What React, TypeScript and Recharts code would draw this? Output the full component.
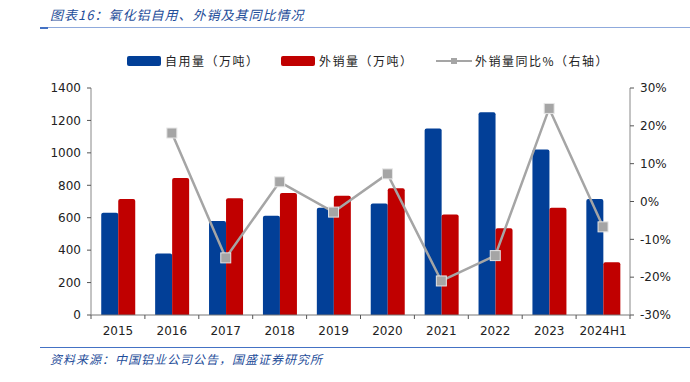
import { ComposedChart, Bar, Line, XAxis, YAxis } from 'recharts'

const years = ['2015', '2016', '2017', '2018', '2019', '2020', '2021', '2022', '2023', '2024H1']
const selfUse = [630, 380, 580, 612, 662, 688, 1150, 1250, 1020, 715]
const sales = [715, 845, 720, 752, 735, 782, 620, 535, 662, 325]
const salesYoY = [null, 0.181, -0.149, 0.052, -0.028, 0.073, -0.21, -0.143, 0.246, -0.067]

const leftTicks = [0, 200, 400, 600, 800, 1000, 1200, 1400]
const rightTicks = [-0.3, -0.2, -0.1, 0, 0.1, 0.2, 0.3]

const data = years.map((y, i) => ({
  year: y,
  selfUse: selfUse[i],
  sales: sales[i],
  yoy: salesYoY[i],
}))

const BLUE = '#023F97'
const RED = '#C00000'
const GREY = '#A5A5A5'
const CJK = '"Noto Sans CJK SC", sans-serif'
const band = (630 - 91) / years.length

function XTick(props: any) {
  const { x, y, payload, index } = props
  return (
    <g>
      <line x1={x + band / 2} x2={x + band / 2} y1={y - 8} y2={y - 4} stroke="#555" />
      {index === 0 && <line x1={x - band / 2} x2={x - band / 2} y1={y - 8} y2={y - 4} stroke="#555" />}
      <text x={x} y={y + 12} textAnchor="middle" fontSize={12} fill="#222" fontFamily="Tahoma, 'DejaVu Sans', sans-serif">
        {payload.value}
      </text>
    </g>
  )
}

function SquareDot(props: any) {
  const { cx, cy, value } = props
  if (value == null || cx == null || cy == null) return <g />
  return <rect x={cx - 5} y={cy - 5} width={10} height={10} fill={GREY} stroke="#e6e6e6" strokeWidth={1} />
}

function ChartLegend() {
  const item = { display: 'flex', alignItems: 'center', fontFamily: CJK, fontSize: 12, color: '#222', letterSpacing: 1.5 }
  return (
    <div style={{ position: 'absolute', left: 0, top: 52, width: 690, height: 16 }}>
      <div style={{ ...item, position: 'absolute', left: 127 }}>
        <span style={{ width: 34, height: 10, background: BLUE, borderRadius: 2, marginRight: 4 }} />
        自用量（万吨）
      </div>
      <div style={{ ...item, position: 'absolute', left: 281 }}>
        <span style={{ width: 34, height: 10, background: RED, borderRadius: 2, marginRight: 4 }} />
        外销量（万吨）
      </div>
      <div style={{ ...item, position: 'absolute', left: 436 }}>
        <svg width={36} height={10} style={{ marginRight: 3 }}>
          <line x1={0} x2={36} y1={5} y2={5} stroke={GREY} strokeWidth={2} />
          <rect x={15} y={2} width={6} height={6} fill={GREY} />
        </svg>
        外销量同比%（右轴）
      </div>
    </div>
  )
}

export default function App() {
  return (
    <div style={{ position: 'absolute', left: 0, top: 0, width: 690, height: 382, background: '#fff' }}>
      <div style={{ position: 'absolute', left: 50, top: 5, fontFamily: CJK, fontStyle: 'italic', fontSize: 13, color: '#1F4E9A', letterSpacing: 1 }}>
        图表16：氧化铝自用、外销及其同比情况
      </div>
      <div style={{ position: 'absolute', left: 40, top: 27, width: 650, height: 1, background: '#8FAADC' }} />
      <div style={{ position: 'absolute', left: 40, top: 27, width: 8, height: 1.5, background: '#4472C4' }} />
      <ChartLegend />
      <ComposedChart
        width={690}
        height={382}
        data={data}
        margin={{ top: 88, right: 10, bottom: 37, left: 0 }}
        barGap={0}
        barCategoryGap="19%"
      >
        <XAxis
          dataKey="year"
          height={30}
          axisLine={{ stroke: '#777' }}
          tickLine={false}
          tick={<XTick />}
          interval={0}
        />
        <YAxis
          yAxisId="left"
          width={91}
          domain={[0, 1400]}
          ticks={leftTicks}
          axisLine={{ stroke: '#888' }}
          tickLine={{ stroke: '#555' }}
          tickSize={4}
          tickMargin={6}
          tick={{ fontSize: 12, fill: '#222', fontFamily: "Tahoma, 'DejaVu Sans', sans-serif" }}
          interval={0}
        />
        <YAxis
          yAxisId="right"
          orientation="right"
          width={50}
          domain={[-0.3, 0.3]}
          ticks={rightTicks}
          axisLine={{ stroke: '#888' }}
          tickLine={{ stroke: '#555' }}
          tickSize={4}
          tickMargin={6}
          tickFormatter={(v: number) => `${Math.round(v * 100)}%`}
          tick={{ fontSize: 12, fill: '#222', fontFamily: "Tahoma, 'DejaVu Sans', sans-serif" }}
          interval={0}
        />
        <Bar yAxisId="left" dataKey="selfUse" fill={BLUE} radius={[2, 2, 0, 0]} isAnimationActive={false} />
        <Bar yAxisId="left" dataKey="sales" fill={RED} radius={[2, 2, 0, 0]} isAnimationActive={false} />
        <Line
          yAxisId="right"
          dataKey="yoy"
          stroke={GREY}
          strokeWidth={2.5}
          dot={<SquareDot />}
          activeDot={false}
          connectNulls={false}
          isAnimationActive={false}
        />
      </ComposedChart>
      <div style={{ position: 'absolute', left: 40, top: 347, width: 650, height: 1, background: '#4472C4' }} />
      <div style={{ position: 'absolute', left: 50, top: 350, fontFamily: CJK, fontStyle: 'italic', fontSize: 12, color: '#1F4E9A', letterSpacing: 1 }}>
        资料来源：中国铝业公司公告，国盛证券研究所
      </div>
    </div>
  )
}
